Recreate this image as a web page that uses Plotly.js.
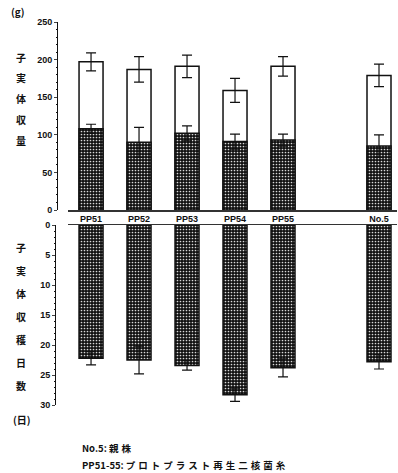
<!DOCTYPE html>
<html>
<head>
<meta charset="utf-8">
<script src="https://cdn.plot.ly/plotly-3.0.1.min.js"></script>
<style>
  html, body { margin: 0; padding: 0; background: #fff; }
  #chart { width: 398px; height: 473px; }
</style>
</head>
<body>
<div id="chart"></div>
<script>
// Strains (No.5 = parent strain, PP51-55 = protoplast-regenerated strains)
const categories = ['PP51', 'PP52', 'PP53', 'PP54', 'PP55', 'No.5'];
// a blank slot separates the regenerated strains from the parent strain
const categoryOrder = ['PP51', 'PP52', 'PP53', 'PP54', 'PP55', ' ', 'No.5'];

// Fruiting body yield (g): total and lower (shaded) portion, with error bars
const totalYield = [197, 187, 191, 159, 191, 179];
const totalYieldErr = [12, 17, 15, 16, 13, 15];
const shadedYield = [108, 90, 102, 91, 93, 85];
const shadedYieldErr = [6, 20, 10, 10, 8, 15];

// Days to fruiting body harvest
const harvestDays = [22.2, 22.5, 23.4, 28.3, 23.8, 22.8];
const harvestDaysErr = [1.1, 2.3, 0.8, 1.1, 1.5, 1.2];

// Axis titles (set vertically, one character per line)
const yieldTitle = '子実体収量';
const yieldUnit = '(g)';
const daysTitle = '子実体収穫日数';
const daysUnit = '(日)';

// Footnotes: [label, explanation]
const noteLabels = ['No.5:', 'PP51-55:'];
const noteTexts = ['親株', 'プロトプラスト再生二核菌糸'];

const W = 398, H = 473;
const px = x => x / W;          // pixel -> paper x
const py = y => 1 - y / H;      // pixel -> paper y

const numFont = { family: 'Liberation Sans, Arial, sans-serif', size: 9, color: '#111', weight: 'bold' };
const jpFont = { family: 'Noto Sans CJK JP, sans-serif', size: 10, color: '#111', weight: 'bold' };

const shadedPattern = { shape: '.', bgcolor: '#111', fgcolor: '#d8d8d8', size: 3, solidity: 0.25, fillmode: 'replace' };

const traces = [
  {
    type: 'bar', x: categories, y: totalYield, xaxis: 'x', yaxis: 'y',
    width: 0.5,
    marker: { color: '#ffffff', line: { color: '#111', width: 1.5 } },
    error_y: { type: 'data', array: totalYieldErr, visible: true, color: '#111', thickness: 1.2, width: 5 },
    hoverinfo: 'skip'
  },
  {
    type: 'bar', x: categories, y: shadedYield, xaxis: 'x', yaxis: 'y',
    width: 0.5,
    marker: { color: '#111', pattern: shadedPattern, line: { color: '#111', width: 1.5 } },
    error_y: { type: 'data', array: shadedYieldErr, visible: true, color: '#111', thickness: 1.2, width: 5 },
    hoverinfo: 'skip'
  },
  {
    type: 'bar', x: categories, y: harvestDays, xaxis: 'x2', yaxis: 'y2',
    width: 0.5,
    marker: { color: '#111', pattern: shadedPattern, line: { color: '#111', width: 1.5 } },
    error_y: { type: 'data', array: harvestDaysErr, visible: true, color: '#111', thickness: 1.2, width: 5 },
    hoverinfo: 'skip'
  }
];

const xRange = [-0.48, 6.375];
const xDomain = [px(68), px(397)];

const annotations = [];
// vertical axis titles
yieldTitle.split('').forEach((ch, i) => {
  annotations.push({ xref: 'paper', yref: 'paper', x: px(21), y: py(57 + i * 20.8),
    text: ch, showarrow: false, font: jpFont, xanchor: 'center', yanchor: 'middle' });
});
annotations.push({ xref: 'paper', yref: 'paper', x: px(18), y: py(12), text: yieldUnit,
  showarrow: false, font: jpFont, xanchor: 'center', yanchor: 'middle' });
daysTitle.split('').forEach((ch, i) => {
  annotations.push({ xref: 'paper', yref: 'paper', x: px(21), y: py(247 + i * 23),
    text: ch, showarrow: false, font: jpFont, xanchor: 'center', yanchor: 'middle' });
});
annotations.push({ xref: 'paper', yref: 'paper', x: px(22), y: py(419), text: daysUnit,
  showarrow: false, font: jpFont, xanchor: 'center', yanchor: 'middle' });
// footnotes: tight label, widely spaced Japanese explanation
noteLabels.forEach((lab, i) => {
  annotations.push({ xref: 'paper', yref: 'paper', x: px(80), y: py(448 + i * 17),
    text: lab + ' <span style="letter-spacing:3px">' + noteTexts[i] + '</span>',
    showarrow: false, font: { ...jpFont, size: 9.5 }, xanchor: 'left', yanchor: 'middle' });
});

const layout = {
  width: W, height: H,
  margin: { l: 0, r: 0, t: 0, b: 0 },
  paper_bgcolor: '#fff', plot_bgcolor: 'rgba(0,0,0,0)',
  showlegend: false,
  barmode: 'overlay',
  xaxis: {
    domain: xDomain, anchor: 'y', type: 'category', categoryorder: 'array', categoryarray: categoryOrder,
    range: xRange, showline: true, linecolor: '#333', linewidth: 1.5, ticks: '',
    showgrid: false, zeroline: false, tickfont: numFont, fixedrange: true
  },
  yaxis: {
    domain: [py(210), py(22)], anchor: 'free', position: px(57), range: [0, 250],
    tickvals: [0, 50, 100, 150, 200, 250], ticks: 'outside', ticklen: 3, tickwidth: 1,
    minor: { dtick: 10, ticks: 'outside', ticklen: 1.5, tickwidth: 1, tickcolor: '#111' },
    showline: true, linecolor: '#111', linewidth: 1.3, showgrid: false, zeroline: false,
    tickfont: numFont, fixedrange: true
  },
  xaxis2: {
    domain: xDomain, anchor: 'y2', side: 'top', type: 'category', categoryorder: 'array',
    categoryarray: categoryOrder, range: xRange, showline: true, linecolor: '#333', linewidth: 1.5,
    ticks: '', showticklabels: false, showgrid: false, zeroline: false, fixedrange: true
  },
  yaxis2: {
    domain: [py(405), py(225)], anchor: 'free', position: px(55), range: [30, 0],
    tickvals: [0, 5, 10, 15, 20, 25, 30], ticks: 'outside', ticklen: 3, tickwidth: 1,
    minor: { dtick: 1, ticks: 'outside', ticklen: 1.5, tickwidth: 1, tickcolor: '#111' },
    showline: true, linecolor: '#111', linewidth: 1.3, showgrid: false, zeroline: false,
    tickfont: numFont, fixedrange: true
  },
  annotations: annotations
};

Plotly.newPlot('chart', traces, layout, { displayModeBar: false, staticPlot: true });
</script>
</body>
</html>
